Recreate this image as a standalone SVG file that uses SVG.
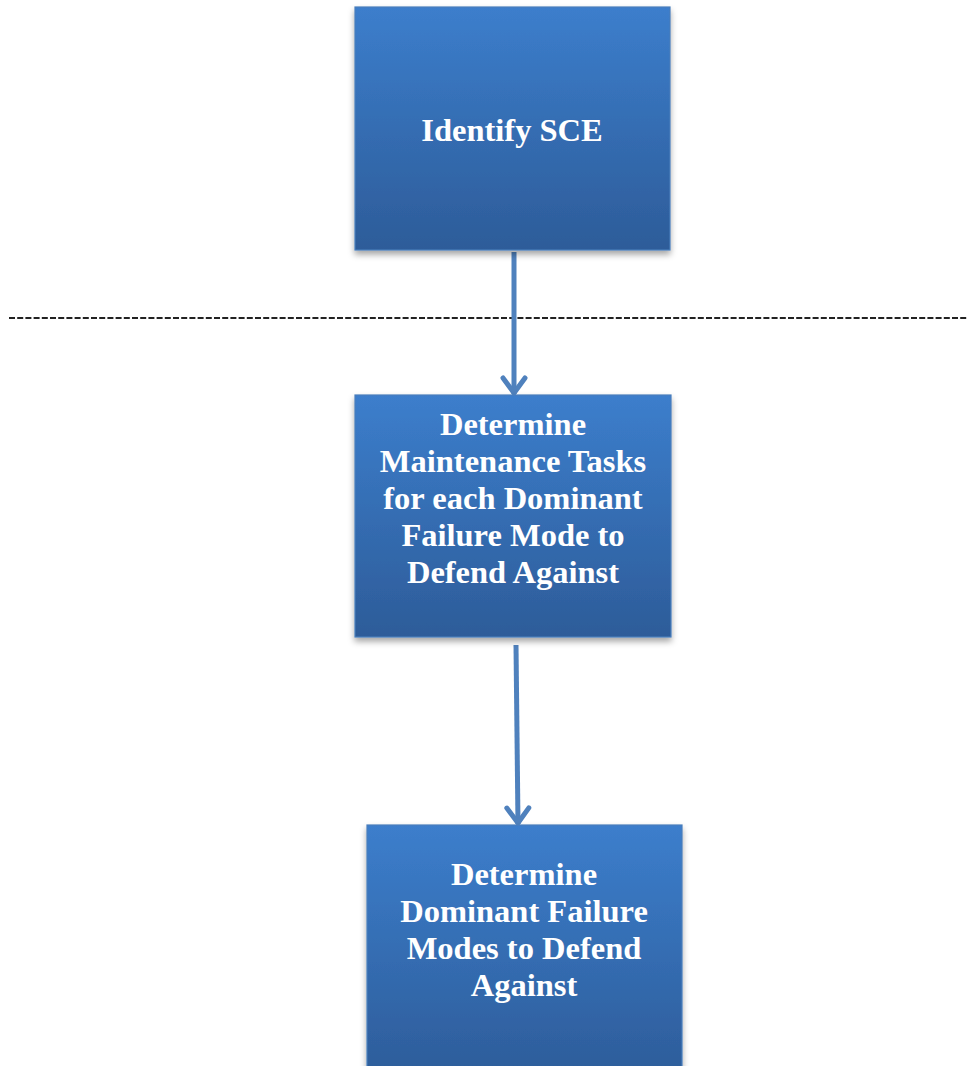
<svg xmlns="http://www.w3.org/2000/svg" width="967" height="1066" viewBox="0 0 967 1066">
<defs>
<linearGradient id="g" x1="0" y1="0" x2="0" y2="1">
<stop offset="0" stop-color="#3c7ecc"/>
<stop offset="1" stop-color="#2d5c99"/>
</linearGradient>
<filter id="sh" x="-10%" y="-10%" width="120%" height="125%">
<feDropShadow dx="0" dy="4" stdDeviation="3" flood-color="#000" flood-opacity="0.35"/>
</filter>
<marker id="ah" markerUnits="userSpaceOnUse" markerWidth="30" markerHeight="30" refX="23" refY="15" orient="auto" viewBox="0 0 30 30">
<path d="M7,4 L22,15 L7,26" fill="none" stroke="#4f81bd" stroke-width="5" stroke-linecap="round" stroke-linejoin="miter"/>
</marker>
</defs>
<style>
.box{fill:url(#g);stroke:#4a7ebb;stroke-width:1.2;filter:url(#sh)}
.t{font-family:"Liberation Serif","Times New Roman",serif;font-weight:bold;font-size:32.5px;fill:#fff;text-anchor:middle}
.c{fill:none;stroke:#4f81bd;stroke-width:5}
</style>
<line x1="9" y1="318" x2="967" y2="318" stroke="#222" stroke-width="2" stroke-dasharray="6,2.2"/>
<g id="connectors">
<path class="c" d="M514,252 L514,394" marker-end="url(#ah)"/>
<path class="c" d="M516,645 L518,824" marker-end="url(#ah)"/>
</g>
<g id="node1">
<rect class="box" x="355" y="7" width="315" height="243"/>
<text class="t" x="512" y="141">Identify SCE</text>
</g>
<g id="node2">
<rect class="box" x="355" y="395" width="316" height="242"/>
<text class="t" x="513" y="435">Determine</text>
<text class="t" x="513" y="472">Maintenance Tasks</text>
<text class="t" x="513" y="509">for each Dominant</text>
<text class="t" x="513" y="546">Failure Mode to</text>
<text class="t" x="513" y="583">Defend Against</text>
</g>
<g id="node3">
<rect class="box" x="367" y="825" width="315" height="255"/>
<text class="t" x="524" y="885">Determine</text>
<text class="t" x="524" y="922">Dominant Failure</text>
<text class="t" x="524" y="959">Modes to Defend</text>
<text class="t" x="524" y="996">Against</text>
</g>
</svg>
